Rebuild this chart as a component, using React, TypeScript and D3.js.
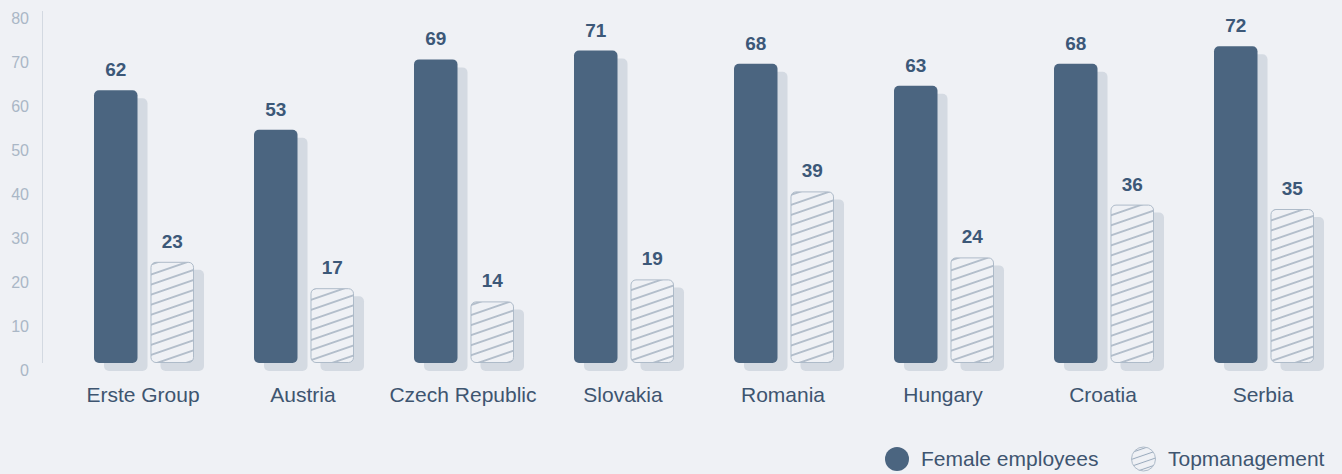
import React from "react";
import * as d3 from "d3";

const categories = ["Erste Group", "Austria", "Czech Republic", "Slovakia", "Romania", "Hungary", "Croatia", "Serbia"];
const femaleEmployees = [62, 53, 69, 71, 68, 63, 68, 72];
const topManagement = [23, 17, 14, 19, 39, 24, 36, 35];
const seriesNames = ["Female employees", "Topmanagement"];
const yTicks = [0, 10, 20, 30, 40, 50, 60, 70, 80];

const W = 1342;
const H = 474;
const BG = "#eff1f5";
const BLUE = "#4b6580";
const SHADOW = "#d4dae2";
const LABEL = "#3c5878";
const TEXT = "#3e5570";
const FONT = "'Liberation Sans', Arial, Helvetica, sans-serif";

export default function App() {
  const x0 = d3.scaleBand<string>().domain(categories).range([63, 1343]).paddingInner(0).paddingOuter(0);
  const x1 = d3.scaleBand<string>().domain(seriesNames).range([31, 131]).paddingInner(0.23).paddingOuter(0);
  const y = d3.scaleLinear().domain([0, 80]).range([363, 11]);
  const bw = x1.bandwidth();
  const r = 5;

  const data = categories.map((c, i) => ({ c, vals: [femaleEmployees[i], topManagement[i]] }));

  return (
    <div style={{ position: "fixed", left: 0, top: 0, width: W, height: H, overflow: "hidden" }}>
      <svg width={W} height={H} style={{ display: "block", background: BG, fontFamily: FONT }}>
        <defs>
          <pattern id="hatch" patternUnits="userSpaceOnUse" width="12" height="9.5" patternTransform="rotate(-19)">
            <rect width="12" height="9.5" fill={BG} />
            <line x1="0" y1="4.75" x2="12" y2="4.75" stroke="#7d90a6" strokeWidth="1" />
          </pattern>
          <pattern id="hatchLegend" patternUnits="userSpaceOnUse" width="12" height="6.5" patternTransform="rotate(-19)">
            <rect width="12" height="6.5" fill={BG} />
            <line x1="0" y1="3.25" x2="12" y2="3.25" stroke="#9aabbd" strokeWidth="1" />
          </pattern>
        </defs>
        <rect width={W} height={H} fill={BG} />

        {/* y axis */}
        <line x1={42.5} x2={42.5} y1={y(80)} y2={y(0)} stroke="#d3d9e1" strokeWidth={1} />
        {yTicks.map((t) => (
          <text key={t} x={29} y={y(t) + 12.5} textAnchor="end" fontSize={16} fill="#aab7c6">
            {t}
          </text>
        ))}

        {/* shadows */}
        {data.map((d) =>
          d.vals.map((v, j) => {
            const bx = (x0(d.c) as number) + (x1(seriesNames[j]) as number);
            return (
              <rect key={`s-${d.c}-${j}`} x={bx + 10} y={y(v) + 8} width={bw} height={y(0) - y(v)} rx={r} fill={SHADOW} />
            );
          })
        )}

        {/* bars */}
        {data.map((d) =>
          d.vals.map((v, j) => {
            const bx = (x0(d.c) as number) + (x1(seriesNames[j]) as number);
            return j === 0 ? (
              <rect key={`b-${d.c}-${j}`} x={bx} y={y(v)} width={bw} height={y(0) - y(v)} rx={r} fill={BLUE} />
            ) : (
              <rect
                key={`b-${d.c}-${j}`}
                x={bx + 0.5}
                y={y(v) + 0.5}
                width={bw - 1}
                height={y(0) - y(v) - 1}
                rx={r}
                fill="url(#hatch)"
                stroke="#aebbc9"
                strokeWidth={1}
              />
            );
          })
        )}

        {/* value labels */}
        {data.map((d) =>
          d.vals.map((v, j) => {
            const bx = (x0(d.c) as number) + (x1(seriesNames[j]) as number);
            return (
              <text key={`l-${d.c}-${j}`} x={bx + bw / 2} y={y(v) - 14} textAnchor="middle" fontSize={19} fontWeight="bold" fill={LABEL}>
                {v}
              </text>
            );
          })
        )}

        {/* category labels */}
        {categories.map((c) => (
          <text key={c} x={(x0(c) as number) + x0.bandwidth() / 2} y={402} textAnchor="middle" fontSize={21} fill={TEXT}>
            {c}
          </text>
        ))}

        {/* legend */}
        <circle cx={897} cy={459} r={12} fill={BLUE} />
        <text x={921} y={466} fontSize={21} fill={TEXT}>
          {seriesNames[0]}
        </text>
        <circle cx={1143.5} cy={459} r={12} fill="url(#hatchLegend)" stroke="#aebbc9" strokeWidth={1} />
        <text x={1168} y={466} fontSize={21} fill={TEXT}>
          {seriesNames[1]}
        </text>
      </svg>
    </div>
  );
}
